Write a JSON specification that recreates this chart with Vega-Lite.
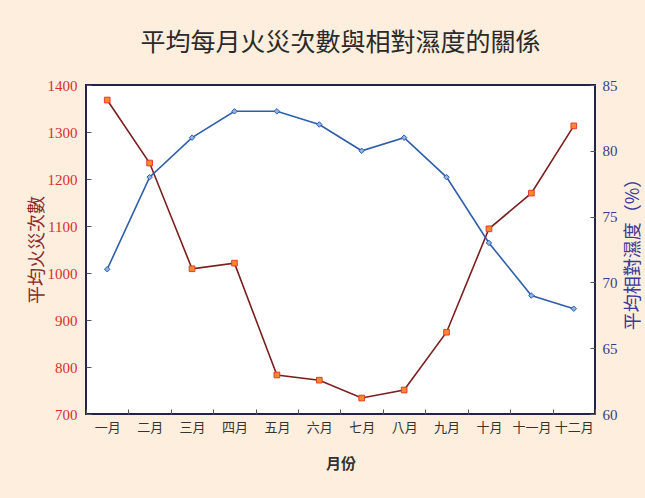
{
  "$schema": "https://vega.github.io/schema/vega-lite/v6.json",
  "width": 509,
  "height": 329,
  "autosize": {"type": "none"},
  "padding": {"left": 86, "top": 85, "right": 50, "bottom": 84},
  "background": "#FDEEDD",
  "title": {
    "text": "平均每月火災次數與相對濕度的關係",
    "font": "Noto Sans CJK TC",
    "fontSize": 25,
    "fontWeight": "normal",
    "color": "#2a2a2a",
    "anchor": "middle",
    "offset": 22
  },
  "config": {
    "view": {"stroke": "#23234A", "strokeWidth": 2, "fill": "white"},
    "axis": {"domain": false, "grid": false}
  },
  "data": {
    "values": [
      {"month": "一月", "fires": 1368, "humidity": 71},
      {"month": "二月", "fires": 1234, "humidity": 78},
      {"month": "三月", "fires": 1009, "humidity": 81},
      {"month": "四月", "fires": 1021, "humidity": 83},
      {"month": "五月", "fires": 783, "humidity": 83},
      {"month": "六月", "fires": 772, "humidity": 82},
      {"month": "七月", "fires": 734, "humidity": 80},
      {"month": "八月", "fires": 751, "humidity": 81},
      {"month": "九月", "fires": 874, "humidity": 78},
      {"month": "十月", "fires": 1094, "humidity": 73},
      {"month": "十一月", "fires": 1170, "humidity": 69},
      {"month": "十二月", "fires": 1313, "humidity": 68}
    ]
  },
  "encoding": {
    "x": {
      "field": "month",
      "type": "ordinal",
      "sort": null,
      "scale": {"type": "band", "paddingInner": 0, "paddingOuter": 0},
      "axis": {
        "title": "月份",
        "titleFont": "Noto Sans CJK TC",
        "titleFontSize": 15,
        "titleFontWeight": "bold",
        "titleColor": "#333333",
        "titlePadding": 22,
        "labelAngle": 0,
        "labelFont": "Noto Sans CJK TC",
        "labelFontSize": 13,
        "labelColor": "#333333",
        "tickBand": "extent",
        "tickSize": -5,
        "tickColor": "#555555",
        "labelPadding": 12
      }
    }
  },
  "layer": [
    {
      "mark": {
        "type": "line",
        "color": "#7B1E1E",
        "strokeWidth": 1.6,
        "point": {"shape": "square", "size": 32, "filled": true, "fill": "#F58A2D", "stroke": "#E53B2A", "strokeWidth": 1}
      },
      "encoding": {
        "y": {
          "field": "fires",
          "type": "quantitative",
          "scale": {"domain": [700, 1400], "nice": false, "zero": false},
          "axis": {
            "orient": "left",
            "title": "平均火災次數",
            "titleFont": "Noto Sans CJK TC",
            "titleFontSize": 18,
            "titleFontWeight": "normal",
            "titleColor": "#8B2A2A",
            "titlePadding": 1,
            "values": [700, 800, 900, 1000, 1100, 1200, 1300, 1400],
            "format": "d",
            "labelFont": "Liberation Serif",
            "labelFontSize": 15,
            "labelColor": "#D9302A",
            "tickSize": -5,
            "tickColor": "#555555",
            "labelPadding": 14
          }
        }
      }
    },
    {
      "mark": {
        "type": "line",
        "color": "#2E5EAA",
        "strokeWidth": 1.6,
        "point": {"shape": "diamond", "size": 30, "filled": true, "fill": "#8DB4E2", "stroke": "#2E5EAA", "strokeWidth": 1}
      },
      "encoding": {
        "y": {
          "field": "humidity",
          "type": "quantitative",
          "scale": {"domain": [60, 85], "nice": false, "zero": false},
          "axis": {
            "orient": "right",
            "title": "平均相對濕度（%）",
            "titleFont": "Noto Sans CJK TC",
            "titleFontSize": 18,
            "titleFontWeight": "normal",
            "titleColor": "#3A3A9A",
            "titleAngle": -90,
            "titleBaseline": "middle",
            "titlePadding": 16,
            "values": [60, 65, 70, 75, 80, 85],
            "labelFont": "Liberation Serif",
            "labelFontSize": 15,
            "labelColor": "#3B3B8C",
            "tickSize": -5,
            "tickColor": "#555555",
            "labelPadding": 12
          }
        }
      }
    }
  ],
  "resolve": {"scale": {"y": "independent"}}
}
